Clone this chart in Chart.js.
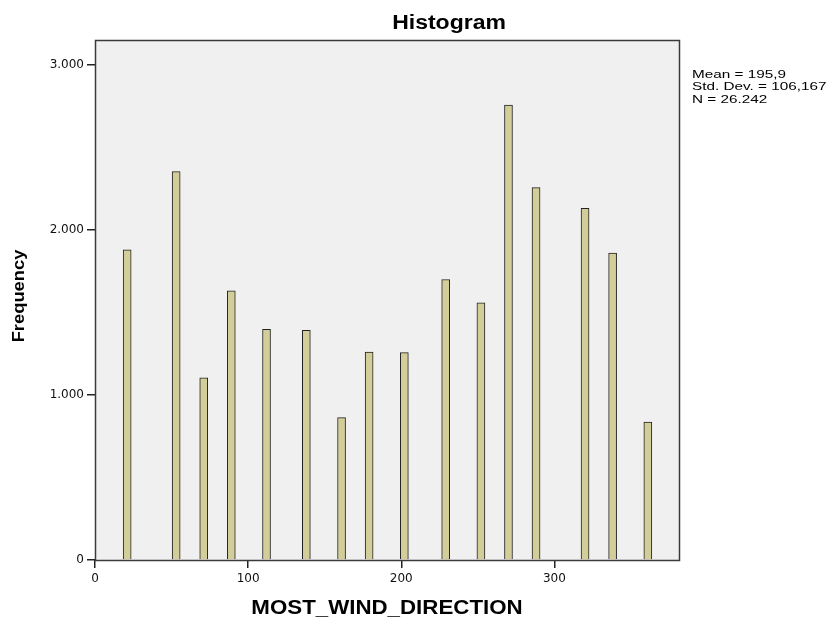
<!DOCTYPE html>
<html>
<head>
<meta charset="utf-8">
<title>Histogram</title>
<script src="https://cdn.jsdelivr.net/npm/chart.js@4.4.1/dist/chart.umd.min.js"></script>
<style>
  body { margin: 0; background: #fff; }
  #wrap { width: 831px; height: 617px; }
</style>
</head>
<body>
<div id="wrap"><canvas id="hist" width="831" height="617"></canvas></div>
<script>
// bin centres (degrees) and counts
var binCenters = [21, 53, 71, 89, 112, 138, 161, 179, 202, 229, 252, 270, 288, 320, 338, 361];
var frequency = [1879, 2353, 1103, 1630, 1398, 1392, 862, 1259, 1256, 1699, 1558, 2756, 2256, 2131, 1859, 835];
var yTicks = [0, 1000, 2000, 3000];
var xTicks = [0, 100, 200, 300];
var statsLines = ["Mean = 195,9", "Std. Dev. = 106,167", "N = 26.242"];
var chartTitle = "Histogram";
var xTitle = "MOST_WIND_DIRECTION";
var yTitle = "Frequency";

var points = binCenters.map(function (c, i) {
    return { x: c, y: frequency[i] };
});

function fmtThousands(v) {
    return String(v).replace(/\B(?=(\d{3})+(?!\d))/g, ".");
}

// text helper: SPSS output text is a bit wider than Arial, so stretch it
function drawText(ctx, text, x, y, font, sx, align, rot) {
    ctx.save();
    ctx.translate(x, y);
    if (rot) ctx.rotate(rot);
    ctx.scale(sx, 1);
    ctx.font = font;
    ctx.fillStyle = "#000";
    ctx.textAlign = align;
    ctx.textBaseline = "middle";
    ctx.fillText(text, 0, 0);
    ctx.restore();
}

var frame = {
    id: "frame",
    beforeDatasetsDraw: function (chart) {
        var a = chart.chartArea, ctx = chart.ctx;
        ctx.save();
        ctx.fillStyle = "#f0f0f0";
        ctx.fillRect(a.left, a.top, a.right - a.left, a.bottom - a.top);
        ctx.restore();
    },
    afterDatasetsDraw: function (chart) {
        var a = chart.chartArea, ctx = chart.ctx;
        ctx.save();
        ctx.strokeStyle = "#3a3a3a";
        ctx.lineWidth = 1.5;
        ctx.strokeRect(a.left + 0.5, a.top + 0.5, a.right - a.left - 1, a.bottom - a.top);
        ctx.restore();
    },
    afterDraw: function (chart) {
        var ctx = chart.ctx;
        drawText(ctx, chartTitle, 449, 23, "bold 20px Arial, 'Liberation Sans'", 1.15, "center");
        drawText(ctx, xTitle, 387, 608, "bold 20px Arial, 'Liberation Sans'", 1.115, "center");
        drawText(ctx, yTitle, 20, 296, "bold 16px Arial, 'Liberation Sans'", 1.145, "center", -Math.PI / 2);
        for (var i = 0; i < statsLines.length; i++) {
            drawText(ctx, statsLines[i], 692, 75 + i * 12.2, "11.5px Arial, 'Liberation Sans'", 1.33, "left");
        }
    }
};

chart = new Chart(document.getElementById("hist"), {
    type: "bar",
    data: {
        datasets: [{
            label: "Frequency",
            data: points,
            backgroundColor: "#d3ce99",
            borderColor: "#222",
            borderWidth: 1,
            borderSkipped: "bottom",
            barThickness: 8
        }]
    },
    options: {
        responsive: false,
        animation: false,
        devicePixelRatio: 1,
        layout: { padding: { left: 0, top: 40, right: 151, bottom: 0 } },
        plugins: {
            legend: { display: false },
            tooltip: { enabled: false },
            title: { display: false }
        },
        scales: {
            x: {
                type: "linear",
                min: 0,
                max: 382,
                offset: false,
                afterFit: function (s) { s.height = 57; },
                afterBuildTicks: function (s) {
                    s.ticks = xTicks.map(function (v) { return { value: v }; });
                },
                grid: {
                    offset: false,
                    drawOnChartArea: false,
                    color: "#222",
                    lineWidth: 1.5,
                    tickLength: 8
                },
                border: { display: false },
                ticks: {
                    color: "#111",
                    padding: 4,
                    maxRotation: 0,
                    font: { family: "'DejaVu Sans'", size: 12 }
                }
            },
            y: {
                min: 0,
                max: 3150,
                afterFit: function (s) { s.width = 95; },
                afterBuildTicks: function (s) {
                    s.ticks = yTicks.map(function (v) { return { value: v }; });
                },
                grid: {
                    drawOnChartArea: false,
                    color: "#222",
                    lineWidth: 1.5,
                    tickLength: 8
                },
                border: { display: false },
                ticks: {
                    color: "#111",
                    padding: 3,
                    font: { family: "'DejaVu Sans'", size: 12 },
                    callback: function (v) { return fmtThousands(v); }
                }
            }
        }
    },
    plugins: [frame]
});
</script>
</body>
</html>
